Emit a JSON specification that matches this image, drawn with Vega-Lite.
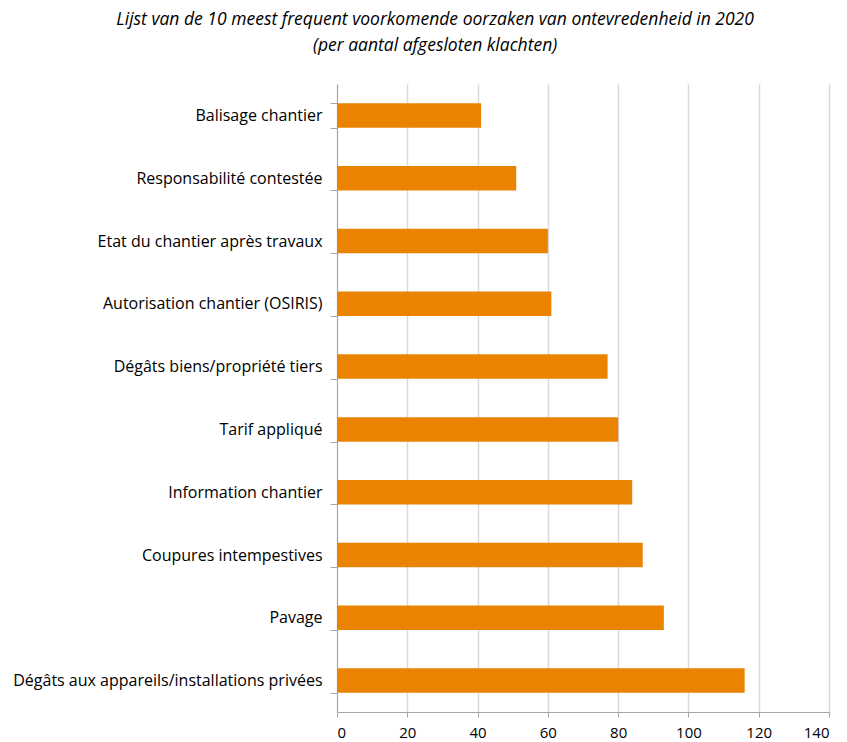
{
  "$schema": "https://vega.github.io/schema/vega-lite/v6.json",
  "width": 492,
  "height": 628,
  "padding": {"left": 12, "top": 10, "right": 12, "bottom": 3},
  "background": "white",
  "title": {
    "text": ["Lijst van de 10 meest frequent voorkomende oorzaken van ontevredenheid in 2020", "(per aantal afgesloten klachten)"],
    "font": "Open Sans",
    "fontSize": 17.5,
    "fontStyle": "italic",
    "fontWeight": "normal",
    "color": "#000000",
    "lineHeight": 26,
    "anchor": "middle",
    "frame": "bounds",
    "dx": 14,
    "offset": 22
  },
  "data": {
    "values": [
      {"cause": "Balisage chantier", "count": 41},
      {"cause": "Responsabilité contestée", "count": 51},
      {"cause": "Etat du chantier après travaux", "count": 60},
      {"cause": "Autorisation chantier (OSIRIS)", "count": 61},
      {"cause": "Dégâts biens/propriété tiers", "count": 77},
      {"cause": "Tarif appliqué", "count": 80},
      {"cause": "Information chantier", "count": 84},
      {"cause": "Coupures intempestives", "count": 87},
      {"cause": "Pavage", "count": 93},
      {"cause": "Dégâts aux appareils/installations privées", "count": 116}
    ]
  },
  "mark": {"type": "bar", "color": "#E98300"},
  "encoding": {
    "y": {
      "field": "cause",
      "type": "nominal",
      "sort": null,
      "title": null,
      "scale": {"paddingInner": 0.61, "paddingOuter": 0.305},
      "axis": {
        "tickBand": "extent",
        "labelFont": "Open Sans",
        "labelFontSize": 16,
        "labelColor": "#000000",
        "labelLimit": 400,
        "labelPadding": 8,
        "domainColor": "#a6a6a6",
        "tickColor": "#a6a6a6",
        "tickSize": 7,
        "grid": false
      }
    },
    "x": {
      "field": "count",
      "type": "quantitative",
      "title": null,
      "scale": {"domain": [0, 140], "nice": false},
      "axis": {
        "values": [0, 20, 40, 60, 80, 100, 120, 140],
        "labelFont": "Open Sans",
        "labelFontSize": 15,
        "labelColor": "#000000",
        "labelPadding": 8,
        "domainColor": "#a6a6a6",
        "tickColor": "#a6a6a6",
        "tickSize": 5,
        "gridColor": "#d9d9d9",
        "gridWidth": 1.5
      }
    }
  },
  "config": {"view": {"stroke": null}}
}
